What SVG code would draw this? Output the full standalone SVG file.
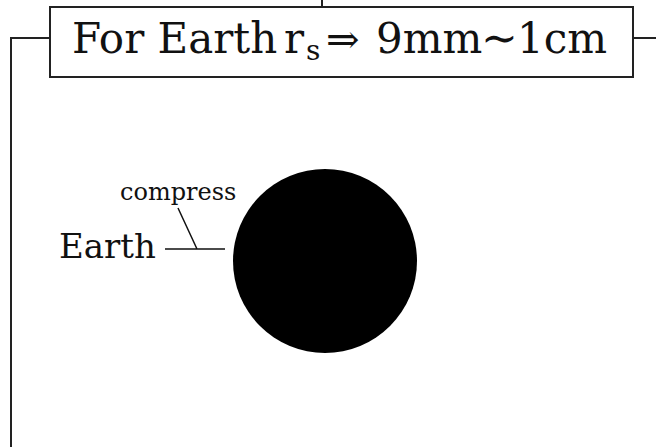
<svg xmlns="http://www.w3.org/2000/svg" width="656" height="447" viewBox="0 0 656 447">
<style>
.ln{fill:none;stroke:#222;stroke-width:2}
.t{font-family:"DejaVu Serif",serif;fill:#111}
</style>
<rect width="656" height="447" fill="#fff"/>
<g id="connectors">
<path class="ln" d="M322,0V7"/>
<path class="ln" d="M50,38H11V447"/>
<path class="ln" d="M633,38H656"/>
<path d="M165,249H225M178,208L197,249" fill="none" stroke="#111" stroke-width="1.5"/>
</g>
<g id="title">
<rect x="50" y="7" width="583" height="70" fill="#fff" stroke="#222" stroke-width="2"/>
<text class="t" y="53" font-size="42"><tspan x="72">For Earth</tspan><tspan x="284">r</tspan><tspan x="306" y="60" font-size="28">s</tspan><tspan x="326" y="53" font-size="40">⇒</tspan><tspan x="376" y="53">9mm</tspan><tspan x="481" font-size="44">∼</tspan><tspan x="517">1cm</tspan></text>
</g>
<g id="earth">
<circle cx="325" cy="261" r="92" fill="#000"/>
<text class="t" x="59" y="258" font-size="34">Earth</text>
<text class="t" x="120" y="200" font-size="24">compress</text>
</g>
</svg>
